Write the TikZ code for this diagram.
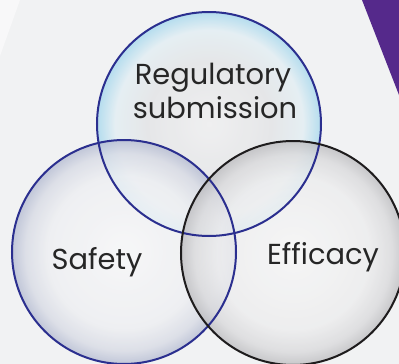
\documentclass[tikz,border=0pt]{standalone}
\usepackage{fontspec}
\setmainfont{Poppins}
\definecolor{bgc}{HTML}{F1F2F3}
\definecolor{bgl}{HTML}{F8F8F9}
\definecolor{purp}{HTML}{55298B}
\definecolor{navy}{HTML}{2B2F8F}
\definecolor{ink}{HTML}{262626}
\definecolor{edgek}{HTML}{1E1C1D}
\definecolor{rc0}{HTML}{EFEFF0}
\definecolor{rc1}{HTML}{E3E4E6}
\definecolor{rc2}{HTML}{E2EEF3}
\definecolor{rc3}{HTML}{A6D8EE}
\definecolor{sc0}{HTML}{F8F8F9}
\definecolor{sc1}{HTML}{EEEFF2}
\definecolor{sc2}{HTML}{D8DBE5}
\definecolor{sc3}{HTML}{B5BCD2}
\definecolor{ec0}{HTML}{F7F7F7}
\definecolor{ec1}{HTML}{EDEDEE}
\definecolor{ec2}{HTML}{DADADC}
\definecolor{ec3}{HTML}{BDBDC0}
\pgfdeclareradialshading{regsh}{\pgfpoint{0bp}{0bp}}{color(0bp)=(rc0); color(14bp)=(rc1); color(21bp)=(rc2); color(25bp)=(rc3); color(50bp)=(rc3)}
\pgfdeclareradialshading{safsh}{\pgfpoint{0bp}{0bp}}{color(0bp)=(sc0); color(17bp)=(sc1); color(22bp)=(sc2); color(25bp)=(sc3); color(50bp)=(sc3)}
\pgfdeclareradialshading{effsh}{\pgfpoint{0bp}{0bp}}{color(0bp)=(ec0); color(17bp)=(ec1); color(22bp)=(ec2); color(25bp)=(ec3); color(50bp)=(ec3)}
\tikzset{
  venn/.style={circle, minimum size=224bp, inner sep=0pt, fill opacity=0.8},
  rim/.style={line width=2bp},
  lbl/.style={text=ink, font=\fontsize{29}{34}\selectfont, anchor=base, inner sep=0pt}
}
\begin{document}
\begin{tikzpicture}[x=1bp,y=-1bp]
\useasboundingbox (0,0) rectangle (399,364);
\fill[bgc] (0,0) rectangle (399,364);
\fill[bgl] (0,0) -- (20,0) -- (0,56) -- cycle;
\fill[purp] (362,0) -- (399,0) -- (399,95) -- cycle;
\node[venn, shading=regsh] (reg) at (209,124) {};
\node[venn, shading=safsh] (saf) at (124,252) {};
\node[venn, shading=effsh] (eff) at (293,253) {};
\draw[rim, navy] (reg.center) circle[radius=112bp];
\draw[rim, navy] (saf.center) circle[radius=112bp];
\draw[rim, edgek] (eff.center) circle[radius=112bp];
\node[lbl] (t1) at (213,84) {Regulatory};
\node[lbl] (t2) at (215,118) {submission};
\node[lbl] (t3) at (97,269) {Safety};
\node[lbl] (t4) at (323,264) {Efficacy};
\end{tikzpicture}
\end{document}
